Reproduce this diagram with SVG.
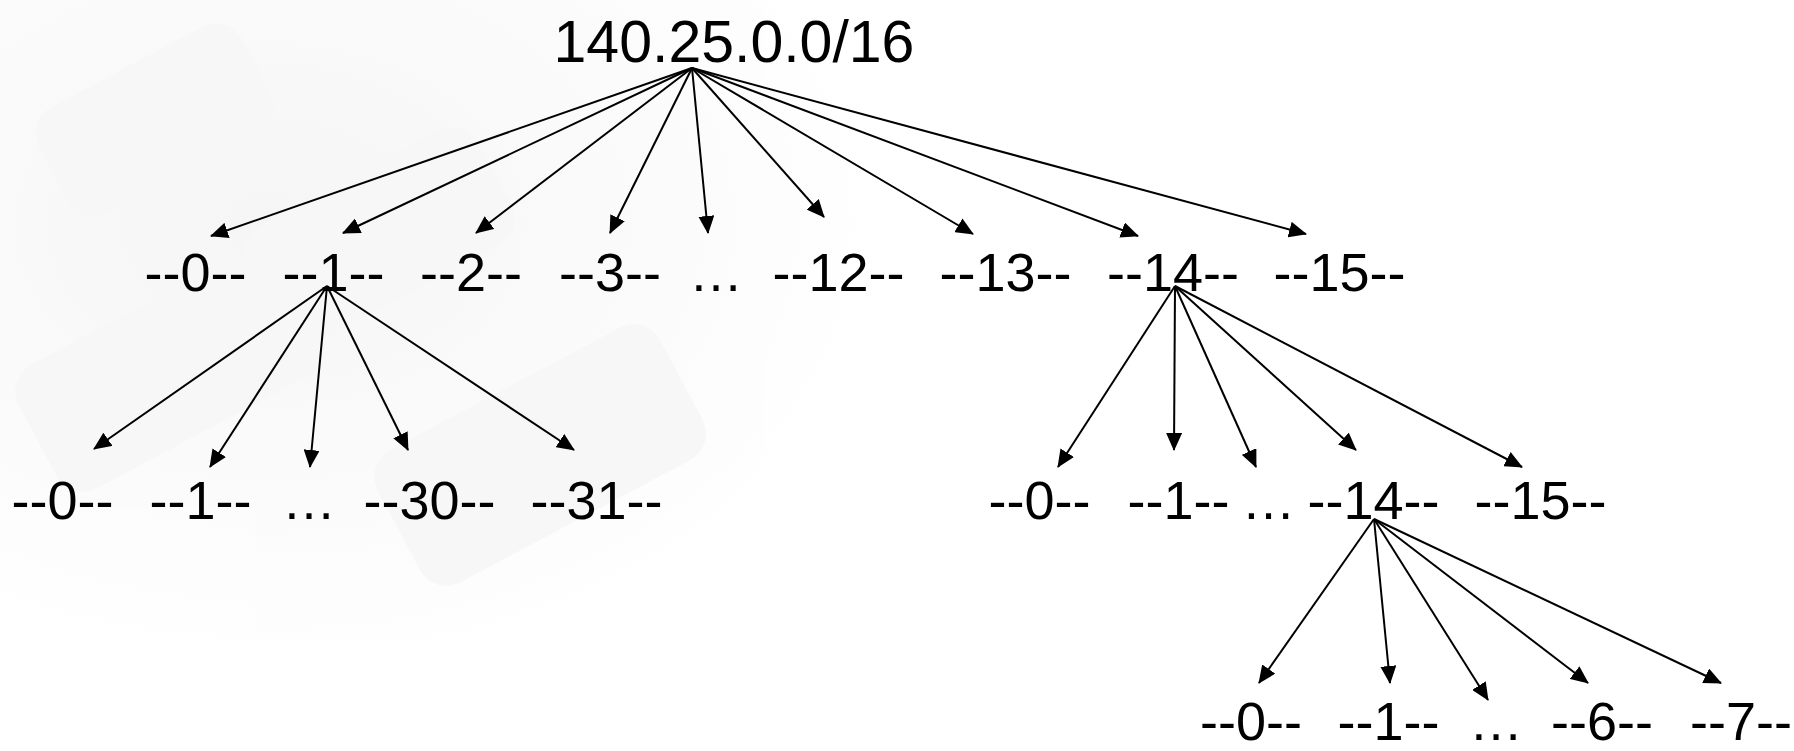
<svg xmlns="http://www.w3.org/2000/svg" width="1794" height="751" viewBox="0 0 1794 751">
  <style>
    .lbl { font-family: "Liberation Sans", Arial, sans-serif; font-size: 54px; fill: #000; text-anchor: middle; }
    .root { font-size: 59px; }
    .edge { stroke: #000; stroke-width: 2; fill: none; marker-end: url(#arrow); }
    .bg { fill: #f3f3f3; }
  </style>
  <defs>
    <marker id="arrow" markerUnits="userSpaceOnUse" markerWidth="18" markerHeight="16" refX="17" refY="8" orient="auto">
      <path d="M0,0 L18,8 L0,16 z" fill="#000"/>
    </marker>
    <radialGradient id="fade" cx="0.3" cy="0.35" r="0.7">
      <stop offset="0" stop-color="#f0f0f0"/>
      <stop offset="1" stop-color="#ffffff"/>
    </radialGradient>
  </defs>
  <rect width="1794" height="751" fill="#fff"/>
  <g id="background" opacity="0.6">
    <rect x="0" y="0" width="900" height="640" fill="url(#fade)"/>
    <rect class="bg" x="40" y="60" width="230" height="120" rx="30" transform="rotate(-28 155 120)"/>
    <rect class="bg" x="250" y="170" width="260" height="130" rx="30" transform="rotate(-28 380 235)"/>
    <rect class="bg" x="20" y="300" width="300" height="140" rx="30" transform="rotate(-28 170 370)"/>
    <rect class="bg" x="380" y="380" width="320" height="150" rx="30" transform="rotate(-28 540 455)"/>
  </g>

  <g id="connectors">
    <line class="edge" x1="692" y1="68" x2="211" y2="236"/>
    <line class="edge" x1="692" y1="68" x2="343" y2="233"/>
    <line class="edge" x1="692" y1="68" x2="476" y2="233"/>
    <line class="edge" x1="692" y1="68" x2="610" y2="233"/>
    <line class="edge" x1="692" y1="68" x2="708" y2="233"/>
    <line class="edge" x1="692" y1="68" x2="824" y2="217"/>
    <line class="edge" x1="692" y1="68" x2="973" y2="234"/>
    <line class="edge" x1="692" y1="68" x2="1138" y2="236"/>
    <line class="edge" x1="692" y1="68" x2="1306" y2="234"/>

    <line class="edge" x1="327" y1="286" x2="94" y2="449"/>
    <line class="edge" x1="327" y1="286" x2="210" y2="467"/>
    <line class="edge" x1="327" y1="286" x2="310" y2="467"/>
    <line class="edge" x1="327" y1="286" x2="408" y2="450"/>
    <line class="edge" x1="327" y1="286" x2="574" y2="450"/>

    <line class="edge" x1="1175" y1="286" x2="1058" y2="467"/>
    <line class="edge" x1="1175" y1="286" x2="1174" y2="450"/>
    <line class="edge" x1="1175" y1="286" x2="1256" y2="467"/>
    <line class="edge" x1="1175" y1="286" x2="1356" y2="450"/>
    <line class="edge" x1="1175" y1="286" x2="1522" y2="467"/>

    <line class="edge" x1="1374" y1="519" x2="1259" y2="683"/>
    <line class="edge" x1="1374" y1="519" x2="1390" y2="683"/>
    <line class="edge" x1="1374" y1="519" x2="1488" y2="700"/>
    <line class="edge" x1="1374" y1="519" x2="1588" y2="683"/>
    <line class="edge" x1="1374" y1="519" x2="1721" y2="683"/>
  </g>

  <g id="root"><text class="lbl root" x="734" y="62">140.25.0.0/16</text></g>

  <g id="n1-0"><text class="lbl" x="195.5" y="291">--0--</text></g>
  <g id="n1-1"><text class="lbl" x="333.5" y="291">--1--</text></g>
  <g id="n1-2"><text class="lbl" x="471" y="291">--2--</text></g>
  <g id="n1-3"><text class="lbl" x="610" y="291">--3--</text></g>
  <g id="n1-dots"><text class="lbl" x="716" y="291">…</text></g>
  <g id="n1-12"><text class="lbl" x="838.5" y="291">--12--</text></g>
  <g id="n1-13"><text class="lbl" x="1005.5" y="291">--13--</text></g>
  <g id="n1-14"><text class="lbl" x="1173" y="291">--14--</text></g>
  <g id="n1-15"><text class="lbl" x="1339.5" y="291">--15--</text></g>

  <g id="n2a-0"><text class="lbl" x="62.5" y="519">--0--</text></g>
  <g id="n2a-1"><text class="lbl" x="200.5" y="519">--1--</text></g>
  <g id="n2a-dots"><text class="lbl" x="309" y="519">…</text></g>
  <g id="n2a-30"><text class="lbl" x="429.5" y="519">--30--</text></g>
  <g id="n2a-31"><text class="lbl" x="596.5" y="519">--31--</text></g>

  <g id="n2b-0"><text class="lbl" x="1039.5" y="519">--0--</text></g>
  <g id="n2b-1"><text class="lbl" x="1178.5" y="519">--1--</text></g>
  <g id="n2b-dots"><text class="lbl" x="1268.5" y="519">…</text></g>
  <g id="n2b-14"><text class="lbl" x="1373.5" y="519">--14--</text></g>
  <g id="n2b-15"><text class="lbl" x="1540.5" y="519">--15--</text></g>

  <g id="n3-0"><text class="lbl" x="1251" y="740">--0--</text></g>
  <g id="n3-1"><text class="lbl" x="1388.5" y="740">--1--</text></g>
  <g id="n3-dots"><text class="lbl" x="1496" y="740">…</text></g>
  <g id="n3-6"><text class="lbl" x="1602" y="740">--6--</text></g>
  <g id="n3-7"><text class="lbl" x="1741" y="740">--7--</text></g>
</svg>
